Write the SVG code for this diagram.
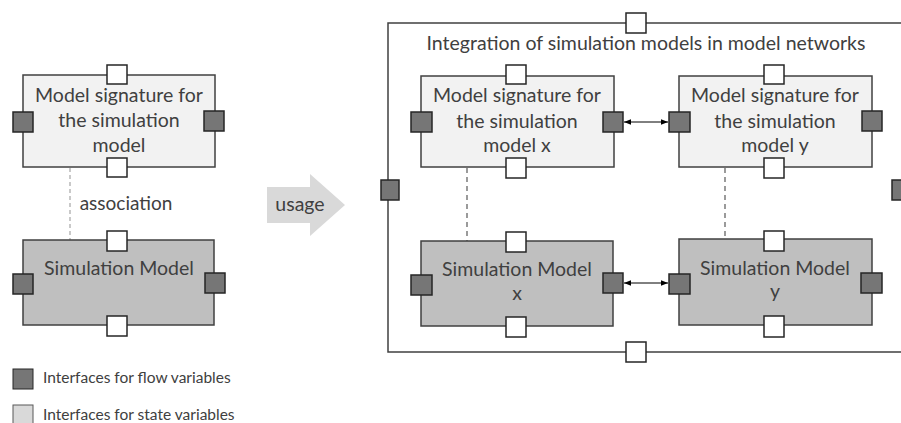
<svg xmlns="http://www.w3.org/2000/svg" width="901" height="423" viewBox="0 0 901 423">
<defs>
<style>
.t{font-family:Lato,"Liberation Sans",sans-serif;font-weight:400;fill:#404040;font-size:19.5px;text-anchor:middle}
.leg{font-family:Lato,"Liberation Sans",sans-serif;font-weight:400;fill:#404040;font-size:15.5px}
.sig{fill:#f2f2f2;stroke:#404040;stroke-width:1.5}
.sim{fill:#bfbfbf;stroke:#404040;stroke-width:1.5}
.sp{fill:#ffffff;stroke:#262626;stroke-width:1.5}
.fp{fill:#767676;stroke:#262626;stroke-width:1.5}
.frame{fill:none;stroke:#404040;stroke-width:1.5}
.dash{fill:none;stroke:#595959;stroke-width:1.2;stroke-dasharray:5,4}
.dashl{fill:none;stroke:#a6a6a6;stroke-width:1.2;stroke-dasharray:4,3}
.arr{fill:none;stroke:#000;stroke-width:1}
</style>
<marker id="ah" viewBox="0 0 10 10" refX="10" refY="5" markerWidth="7" markerHeight="7" orient="auto-start-reverse"><path d="M0,1 L10,5 L0,9 z" fill="#000"/></marker>
</defs>

<g id="connectors">
<line class="dashl" x1="70" y1="168" x2="70" y2="240"/>
<line class="dash" x1="467" y1="168" x2="467" y2="241"/>
<line class="dash" x1="725" y1="168" x2="725" y2="239"/>
<line class="arr" x1="624" y1="122" x2="668" y2="122" marker-start="url(#ah)" marker-end="url(#ah)"/>
<line class="arr" x1="624" y1="283" x2="668" y2="283" marker-start="url(#ah)" marker-end="url(#ah)"/>
</g>

<g id="assoc-label"><text class="t" x="126" y="210" style="font-size:19px">association</text></g>

<g id="sig-left">
<rect class="sig" x="23" y="75" width="192" height="92"/>
<text class="t" x="119" y="102">Model signature for</text>
<text class="t" x="119" y="127">the simulation</text>
<text class="t" x="119" y="152">model</text>
<rect class="sp" x="107" y="65" width="20" height="19"/>
<rect class="sp" x="107" y="158" width="20" height="19"/>
<rect class="fp" x="13" y="112" width="20" height="20"/>
<rect class="fp" x="204" y="111" width="20" height="20"/>
</g>

<g id="sim-left">
<rect class="sim" x="23" y="240" width="191" height="85"/>
<text class="t" x="119" y="275">Simulation Model</text>
<rect class="sp" x="107" y="231" width="20" height="20"/>
<rect class="sp" x="107" y="316" width="20" height="20"/>
<rect class="fp" x="13" y="274" width="20" height="20"/>
<rect class="fp" x="205" y="273" width="20" height="20"/>
</g>

<g id="usage">
<path d="M267,187 L310,187 L310,174 L345,205 L310,236 L310,223 L267,223 z" fill="#d9d9d9"/>
<text class="t" x="300" y="211">usage</text>
</g>

<g id="network">
<path class="frame" d="M906,23 L388,23 L388,352 L906,352"/>
<text class="t" x="646" y="50">Integration of simulation models in model networks</text>
<rect class="sp" x="626" y="13" width="20" height="20"/>
<rect class="sp" x="626" y="342" width="20" height="20"/>
<rect class="fp" x="381" y="180" width="18" height="20"/>
<rect class="fp" x="892" y="180" width="20" height="20"/>
</g>

<g id="sig-x">
<rect class="sig" x="421" y="76" width="193" height="91"/>
<text class="t" x="517" y="102">Model signature for</text>
<text class="t" x="517" y="128">the simulation</text>
<text class="t" x="517" y="152">model x</text>
<rect class="sp" x="506" y="65" width="20" height="19"/>
<rect class="sp" x="506" y="158" width="20" height="20"/>
<rect class="fp" x="411" y="112" width="21" height="20"/>
<rect class="fp" x="603" y="112" width="20" height="20"/>
</g>

<g id="sig-y">
<rect class="sig" x="679" y="76" width="193" height="91"/>
<text class="t" x="775" y="102">Model signature for</text>
<text class="t" x="775" y="128">the simulation</text>
<text class="t" x="775" y="152">model y</text>
<rect class="sp" x="764" y="65" width="20" height="19"/>
<rect class="sp" x="764" y="158" width="20" height="20"/>
<rect class="fp" x="669" y="112" width="21" height="20"/>
<rect class="fp" x="862" y="111" width="20" height="20"/>
</g>

<g id="sim-x">
<rect class="sim" x="421" y="241" width="192" height="85"/>
<text class="t" x="517" y="276">Simulation Model</text>
<text class="t" x="517" y="300">x</text>
<rect class="sp" x="506" y="232" width="20" height="20"/>
<rect class="sp" x="506" y="317" width="20" height="20"/>
<rect class="fp" x="411" y="275" width="21" height="20"/>
<rect class="fp" x="603" y="273" width="20" height="20"/>
</g>

<g id="sim-y">
<rect class="sim" x="679" y="239" width="193" height="86"/>
<text class="t" x="775" y="275">Simulation Model</text>
<text class="t" x="775" y="298">y</text>
<rect class="sp" x="764" y="231" width="20" height="20"/>
<rect class="sp" x="764" y="316" width="20" height="21"/>
<rect class="fp" x="669" y="274" width="21" height="20"/>
<rect class="fp" x="861" y="273" width="21" height="20"/>
</g>

<g id="legend">
<rect class="fp" x="13" y="369" width="20" height="20" style="stroke-width:1"/>
<text class="leg" x="43" y="383">Interfaces for flow variables</text>
<rect x="13" y="405" width="20" height="20" fill="#d9d9d9" stroke="#595959" stroke-width="1"/>
<text class="leg" x="43" y="420">Interfaces for state variables</text>
</g>
</svg>
